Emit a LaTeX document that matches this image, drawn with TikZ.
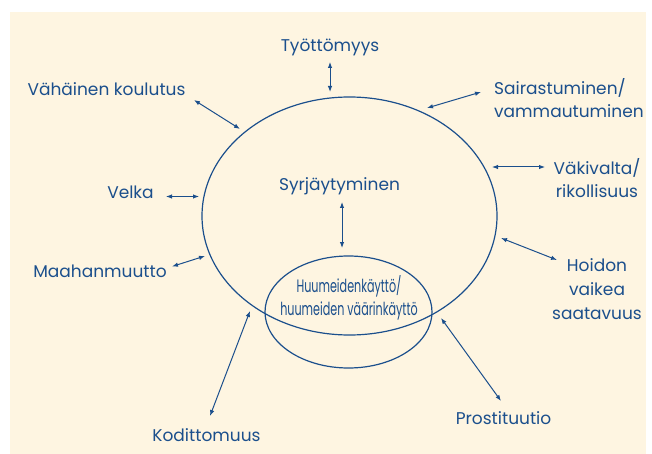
\documentclass[tikz,border=0pt]{standalone}
\usepackage{fontspec}
\setmainfont{Poppins}
\newfontfamily\narrowfont[FakeStretch=0.62]{Poppins}
\usetikzlibrary{arrows.meta, shapes.geometric}
\definecolor{panel}{HTML}{FEF5E1}
\definecolor{ink}{HTML}{1B4F8C}

\begin{document}
\begin{tikzpicture}[x=1pt, y=-1pt,
    label/.style={text=ink, font=\fontsize{17}{23}\selectfont, anchor=base, inner sep=0pt, align=center},
    ring/.style={draw=ink, line width=1.2pt, ellipse, inner sep=0pt},
    link/.style={draw=ink, line width=1pt, {Latex[length=6pt,width=4.5pt]}-{Latex[length=6pt,width=4.5pt]}}]
  \useasboundingbox (0,0) rectangle (652,454);
  \fill[panel] (10,12) rectangle (646,454);

  % the two rings
  \node[ring, minimum width=295pt, minimum height=238pt] (big) at (349.5,216) {};
  \node[ring, minimum width=167pt, minimum height=112pt] (small) at (348.5,312) {};

  % texts (multi-line ones sit on their last line)
  \node[label] (syr) at (339.5,190) {Syrjäytyminen};
  \node[label, font=\narrowfont\fontsize{18}{23}\selectfont] (huu) at (349,315) {Huumeidenkäyttö/\\huumeiden väärinkäyttö};
  \node[label] (tyo) at (330,52) {Työttömyys};
  \node[label] (kou) at (106.5,96) {Vähäinen koulutus};
  \node[label] (vel) at (130.5,199) {Velka};
  \node[label] (maa) at (100,277) {Maahanmuutto};
  \node[label] (kod) at (206.5,441) {Kodittomuus};
  \node[label] (pro) at (503.5,424) {Prostituutio};
  \node[label, font=\fontsize{17}{24}\selectfont] (hoi) at (597,319) {Hoidon\\vaikea\\saatavuus};
  \node[label, anchor=base west, align=left] (sai) at (494,118) {Sairastuminen/\\vammautuminen};
  \node[label] (vak) at (597,197) {Väkivalta/\\rikollisuus};

  % arrow ends
  \coordinate (syr-a) at (342,202);  \coordinate (syr-b) at (342,248);
  \coordinate (tyo-a) at (330,62);   \coordinate (tyo-b) at (330,92);
  \coordinate (kou-a) at (194,100);  \coordinate (kou-b) at (240,129);
  \coordinate (vel-a) at (166,196.5); \coordinate (vel-b) at (199,196.5);
  \coordinate (maa-a) at (172,266.5); \coordinate (maa-b) at (205,256);
  \coordinate (kod-a) at (210,416);  \coordinate (kod-b) at (250,311);
  \coordinate (pro-a) at (501,401);  \coordinate (pro-b) at (441,318);
  \coordinate (hoi-a) at (557,260);  \coordinate (hoi-b) at (501,238);
  \coordinate (vak-a) at (545,167);  \coordinate (vak-b) at (492,167);
  \coordinate (sai-a) at (481,92);   \coordinate (sai-b) at (427,108);

  \foreach \n in {syr,tyo,kou,vel,maa,kod,pro,hoi,vak,sai}
    \draw[link] (\n-a) -- (\n-b);
\end{tikzpicture}
\end{document}
